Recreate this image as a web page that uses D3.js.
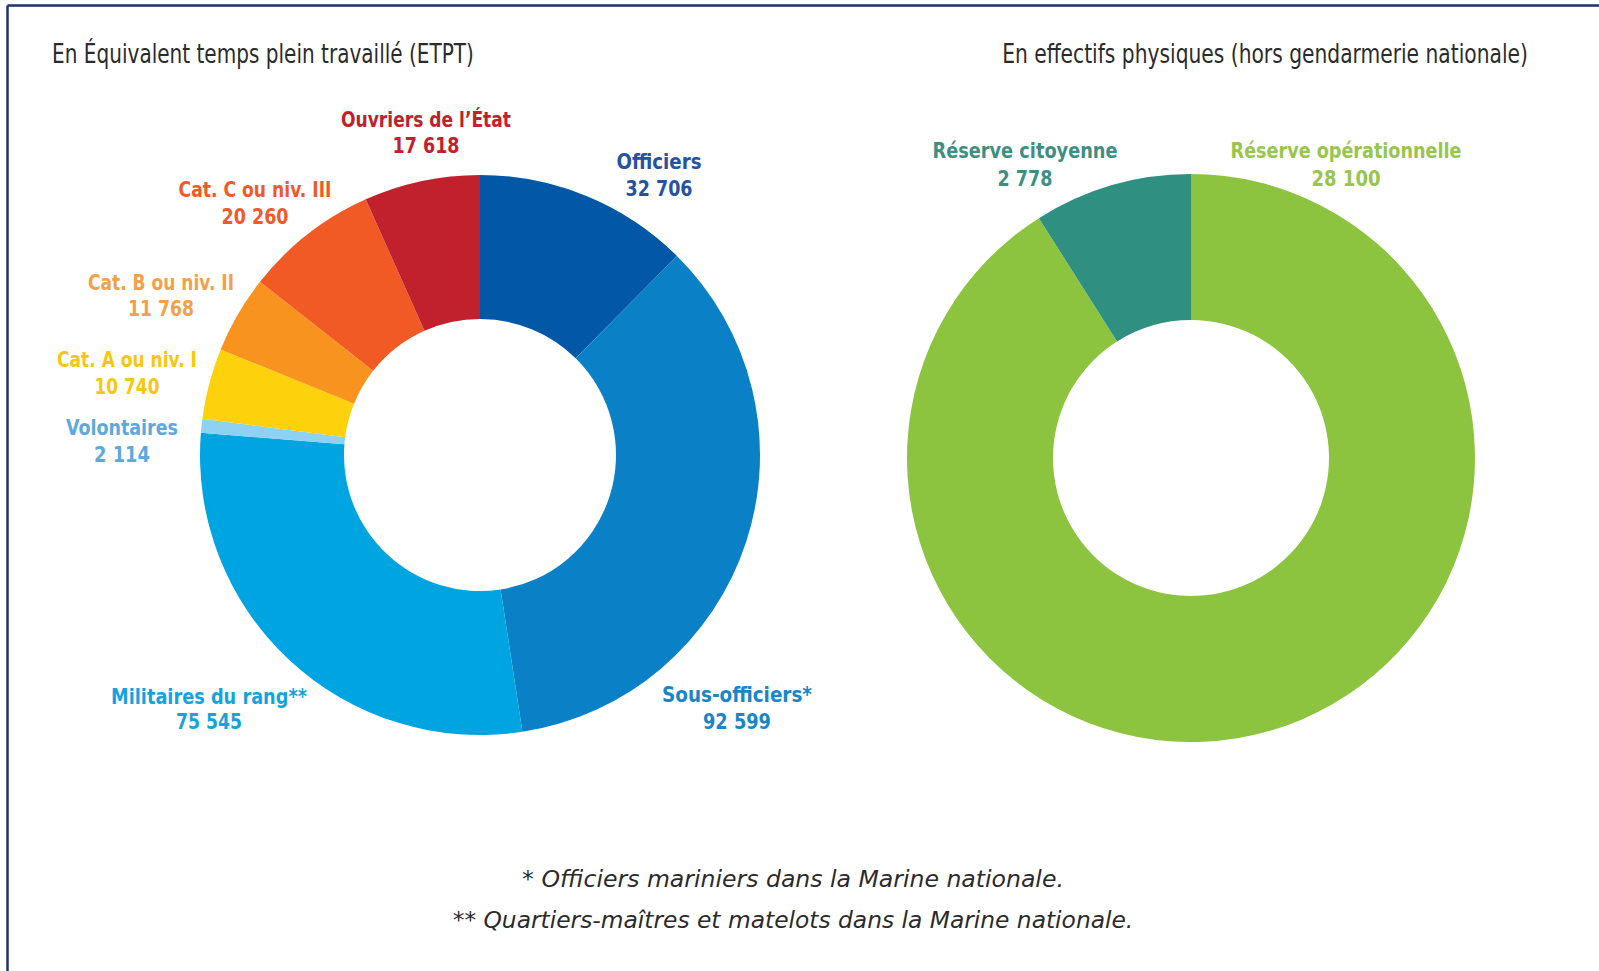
<!DOCTYPE html>
<html>
<head>
<meta charset="utf-8">
<script src="https://cdn.jsdelivr.net/npm/d3@7"></script>
<style>
  html, body { margin: 0; padding: 0; background: #fff; }
  svg { display: block; }
  text { font-family: "Liberation Sans Narrow", "DejaVu Sans Condensed", "Roboto", sans-serif; }
</style>
</head>
<body>
<svg id="chart" width="1599" height="971"></svg>
<script>
// ---------- DATA ----------
const etptCategories = ["Officiers", "Sous-officiers*", "Militaires du rang**", "Volontaires",
  "Cat. A ou niv. I", "Cat. B ou niv. II", "Cat. C ou niv. III", "Ouvriers de l\u2019État"];
const etptValues = [32706, 92599, 75545, 2114, 10740, 11768, 20260, 17618];
const etptValueLabels = ["32 706", "92 599", "75 545", "2 114", "10 740", "11 768", "20 260", "17 618"];

const reserveCategories = ["Réserve opérationnelle", "Réserve citoyenne"];
const reserveValues = [28100, 2778];
const reserveValueLabels = ["28 100", "2 778"];

const titles = ["En Équivalent temps plein travaillé (ETPT)",
  "En effectifs physiques (hors gendarmerie nationale)"];
const footnotes = ["* Officiers mariniers dans la Marine nationale.",
  "** Quartiers-maîtres et matelots dans la Marine nationale."];

// ---------- STYLE / LAYOUT ----------
const etptFill = ["#0257a6", "#0a80c7", "#00a4e1", "#8fd1f3", "#fdd10b", "#f7931e", "#f15a24", "#c1202d"];
const etptText = ["#2553a0", "#1a86c8", "#16a3dd", "#5da8dc", "#f6c710", "#f3a04a", "#f05a28", "#c1202d"];
const reserveFill = ["#8cc43f", "#2f8f80"];
const reserveText = ["#97c64f", "#3d8f82"];

// label layout: [centerX, baseline1, baseline2, width1, width2]
const etptLabelPos = [
  [659, 169, 196, 85, 67],
  [737, 702, 729, 150, 68],
  [209, 704, 729, 196, 66],
  [122, 435, 462, 112, 56],
  [127, 367, 394, 140, 65],
  [161, 290, 316, 146, 66],
  [255, 197, 224, 153, 67],
  [426, 127, 153, 170, 67]
];
const reserveLabelPos = [
  [1346, 158, 186, 231, 69],
  [1025, 158, 186, 185, 55]
];

const svg = d3.select("#chart");

// draw a text centred on cx (anchor middle) and condensed horizontally to a target width
function fittedText(cx, y, width, str, attrs) {
  const g = svg.append("g");
  const t = g.append("text").attr("x", 0).attr("y", 0).attr("text-anchor", "middle");
  Object.entries(attrs).forEach(([k, v]) => t.attr(k, v));
  t.text(str);
  const natural = t.node().getComputedTextLength() || width;
  g.attr("transform", `translate(${cx},${y}) scale(${width / natural},1)`);
  return t;
}

// frame lines (top and left)
svg.append("line").attr("x1", 7.5).attr("y1", 5.5).attr("x2", 1599).attr("y2", 5.5)
  .attr("stroke", "#1e3170").attr("stroke-width", 2.5);
svg.append("line").attr("x1", 7.5).attr("y1", 5.5).attr("x2", 7.5).attr("y2", 971)
  .attr("stroke", "#1e3170").attr("stroke-width", 2.5);

// titles
const titleAttrs = { "font-size": 27, "fill": "#2b2b2b" };
fittedText(52 + 422 / 2, 63, 422, titles[0], titleAttrs);
fittedText(1002 + 526 / 2, 63, 526, titles[1], titleAttrs);

function donut(cx, cy, rOuter, rInner, values, fills) {
  const pie = d3.pie().sort(null).value(d => d).startAngle(0).endAngle(2 * Math.PI);
  const arc = d3.arc().innerRadius(rInner).outerRadius(rOuter);
  const g = svg.append("g").attr("transform", `translate(${cx},${cy})`);
  g.selectAll("path").data(pie(values)).join("path")
    .attr("d", arc)
    .attr("fill", (d, i) => fills[i]);
}

donut(480, 455, 280, 136, etptValues, etptFill);
donut(1191, 458, 284, 138, reserveValues, reserveFill);

function labels(cats, vals, pos, colors) {
  cats.forEach((c, i) => {
    const p = pos[i];
    const a = { "font-size": 21, "font-weight": "bold", "fill": colors[i] };
    fittedText(p[0], p[1], p[3], c, a);
    fittedText(p[0], p[2], p[4], vals[i], a);
  });
}
labels(etptCategories, etptValueLabels, etptLabelPos, etptText);
labels(reserveCategories, reserveValueLabels, reserveLabelPos, reserveText);

// footnotes
const noteAttrs = { "font-size": 23, "font-style": "italic", "fill": "#2b2b2b" };
fittedText(793, 887, 542, footnotes[0], noteAttrs);
fittedText(793, 928, 681, footnotes[1], noteAttrs);
</script>
</body>
</html>
